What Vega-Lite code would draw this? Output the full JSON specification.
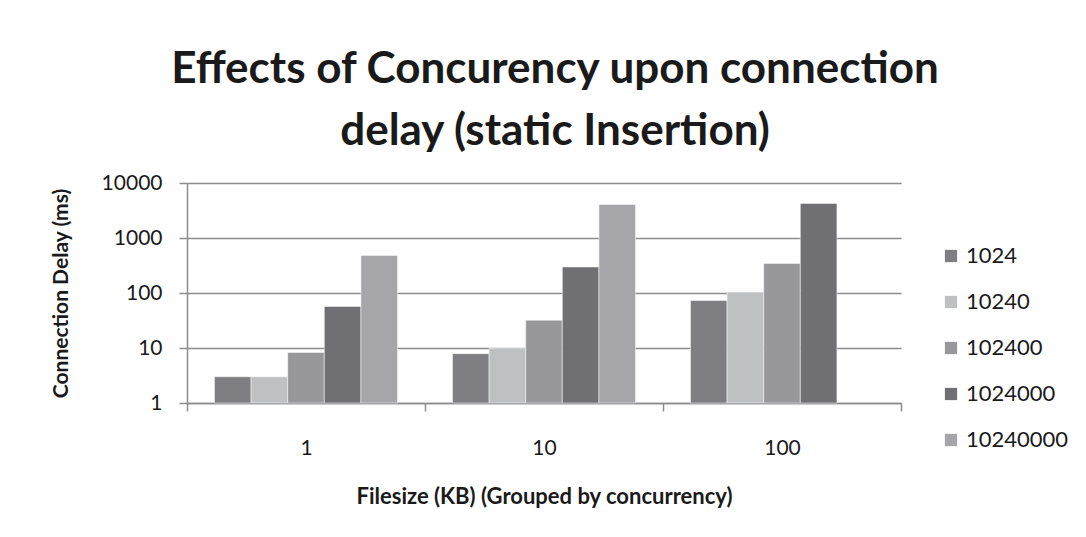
{
  "$schema": "https://vega.github.io/schema/vega-lite/v6.json",
  "width": 714,
  "height": 220,
  "autosize": {"type": "none"},
  "padding": {"left": 187, "top": 183, "right": 185, "bottom": 134},
  "background": "white",
  "title": {
    "text": ["Effects of Concurency upon connection", "delay (static Insertion)"],
    "font": "Lato",
    "fontSize": 44,
    "fontWeight": "bold",
    "color": "#1a1a1a",
    "anchor": "middle",
    "dx": 11,
    "offset": 18,
    "lineHeight": 62
  },
  "data": {
    "values": [
      {"filesize": "1", "concurrency": "1024", "delay": 3},
      {"filesize": "1", "concurrency": "10240", "delay": 3},
      {"filesize": "1", "concurrency": "102400", "delay": 8.3},
      {"filesize": "1", "concurrency": "1024000", "delay": 57},
      {"filesize": "1", "concurrency": "10240000", "delay": 483},
      {"filesize": "10", "concurrency": "1024", "delay": 7.9},
      {"filesize": "10", "concurrency": "10240", "delay": 10},
      {"filesize": "10", "concurrency": "102400", "delay": 32},
      {"filesize": "10", "concurrency": "1024000", "delay": 297},
      {"filesize": "10", "concurrency": "10240000", "delay": 4080},
      {"filesize": "100", "concurrency": "1024", "delay": 73},
      {"filesize": "100", "concurrency": "10240", "delay": 104},
      {"filesize": "100", "concurrency": "102400", "delay": 345},
      {"filesize": "100", "concurrency": "1024000", "delay": 4260}
    ]
  },
  "mark": {"type": "bar", "stroke": "white", "strokeWidth": 0.5},
  "encoding": {
    "x": {
      "field": "filesize",
      "type": "nominal",
      "sort": ["1", "10", "100"],
      "scale": {"paddingInner": 0, "paddingOuter": 0},
      "axis": {
        "title": "Filesize (KB) (Grouped by concurrency)",
        "titleFont": "Lato",
        "titleFontSize": 22,
        "titleFontWeight": "bold",
        "titleColor": "#1a1a1a",
        "titlePadding": 28,
        "labelAngle": 0,
        "labelFont": "Lato",
        "labelFontSize": 21,
        "labelColor": "#1a1a1a",
        "labelPadding": 26,
        "tickBand": "extent",
        "tickSize": 8,
        "tickColor": "#8c8c8c",
        "tickWidth": 1.5,
        "domainColor": "#8c8c8c",
        "domainWidth": 1.5,
        "grid": false
      }
    },
    "xOffset": {
      "field": "concurrency",
      "type": "nominal",
      "sort": ["1024", "10240", "102400", "1024000", "10240000"],
      "scale": {"paddingInner": 0, "paddingOuter": 0.75}
    },
    "y": {
      "field": "delay",
      "type": "quantitative",
      "scale": {"type": "log", "domain": [1, 10000], "nice": false},
      "axis": {
        "title": "Connection Delay (ms)",
        "titleFont": "Lato",
        "titleFontSize": 21,
        "titleFontWeight": "bold",
        "titleColor": "#1a1a1a",
        "titlePadding": 30,
        "values": [1, 10, 100, 1000, 10000],
        "format": "d",
        "labelFont": "Lato",
        "labelFontSize": 21,
        "labelColor": "#1a1a1a",
        "labelPadding": 17,
        "tickSize": 8,
        "tickColor": "#8c8c8c",
        "tickWidth": 1.5,
        "domainColor": "#8c8c8c",
        "domainWidth": 1.5,
        "grid": true,
        "gridColor": "#8c8c8c",
        "gridWidth": 1.5
      }
    },
    "y2": {"datum": 1},
    "color": {
      "field": "concurrency",
      "type": "nominal",
      "sort": ["1024", "10240", "102400", "1024000", "10240000"],
      "scale": {
        "domain": ["1024", "10240", "102400", "1024000", "10240000"],
        "range": ["#7f7f83", "#bfc0c2", "#98989c", "#707074", "#a6a6aa"]
      },
      "legend": {
        "title": null,
        "orient": "none",
        "legendX": 753,
        "legendY": 62,
        "symbolType": "square",
        "symbolSize": 150,
        "symbolStrokeWidth": 0,
        "labelFont": "Lato",
        "labelFontSize": 22,
        "labelColor": "#1a1a1a",
        "rowPadding": 24,
        "labelOffset": 4
      }
    }
  },
  "config": {"view": {"stroke": null}}
}
